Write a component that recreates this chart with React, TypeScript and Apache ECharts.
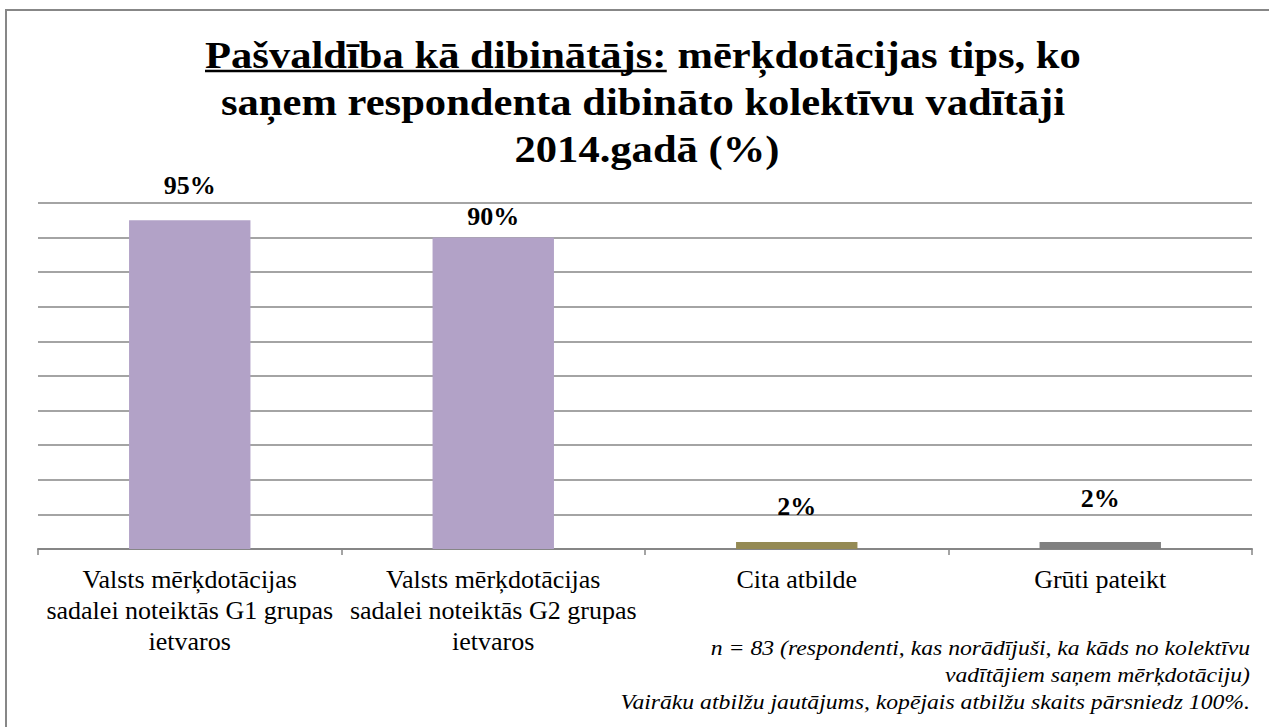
import React, { useEffect, useRef } from "react";
import * as echarts from "echarts";

const categories = [
  "Valsts mērķdotācijas\nsadalei noteiktās G1 grupas\nietvaros",
  "Valsts mērķdotācijas\nsadalei noteiktās G2 grupas\nietvaros",
  "Cita atbilde",
  "Grūti pateikt",
];
const values = [95, 90, 2, 2];
const barColors = ["#B2A2C7", "#B2A2C7", "#948A54", "#808080"];
const titleUnderlined = "Pašvaldība kā dibinātājs:";
const titleRest1 = "mērķdotācijas tips, ko";
const titleLine2 = "saņem respondenta dibināto kolektīvu vadītāji";
const titleLine3 = "2014.gadā (%)";
const notes = [
  "n = 83 (respondenti, kas norādījuši, ka kāds no kolektīvu",
  "vadītājiem saņem mērķdotāciju)",
  "Vairāku atbilžu jautājums, kopējais atbilžu skaits pārsniedz 100%.",
];

const SERIF = "Liberation Serif";

function measure(text: string, size: number, weight: string, style: string): number {
  const s = document.createElement("span");
  s.style.fontFamily = SERIF;
  s.style.fontSize = size + "px";
  s.style.fontWeight = weight;
  s.style.fontStyle = style;
  s.style.whiteSpace = "pre";
  s.style.position = "absolute";
  s.style.left = "-5000px";
  s.style.top = "0";
  s.textContent = text;
  document.body.appendChild(s);
  const w = s.getBoundingClientRect().width;
  document.body.removeChild(s);
  return w;
}

function buildOption() {
  const titleSize = 38;
  const cx = 643;
  const wA = measure(titleUnderlined, titleSize, "bold", "normal");
  const wAB = measure(titleUnderlined + " " + titleRest1, titleSize, "bold", "normal");
  const wS = measure(titleUnderlined + " ", titleSize, "bold", "normal") - wA;
  const sx = 876 / wAB;
  const x0 = cx - (wAB * sx) / 2;
  const labelDist = [22, 8, 23, 31];

  const noteSize = 21;
  const nsx = 630 / measure(notes[2], noteSize, "normal", "italic");

  const titleStyle = {
    fontFamily: SERIF,
    fontSize: titleSize,
    fontWeight: "bold",
    fill: "#000",
    verticalAlign: "middle",
  };

  return {
    animation: false,
    textStyle: { fontFamily: SERIF },
    grid: { left: 38, right: 17, top: 203, bottom: 178, containLabel: false },
    xAxis: {
      type: "category",
      data: categories,
      axisLine: { lineStyle: { color: "#868686", width: 2 } },
      axisTick: { show: true, length: 6, lineStyle: { color: "#868686", width: 1.5 } },
      axisLabel: {
        interval: 0,
        color: "#000",
        fontFamily: SERIF,
        fontSize: 26,
        lineHeight: 31,
        margin: 15,
      },
    },
    yAxis: {
      type: "value",
      min: 0,
      max: 100,
      interval: 10,
      axisLabel: { show: false },
      axisLine: { show: false },
      axisTick: { show: false },
      splitLine: { lineStyle: { color: "#868686", width: 1.5 } },
    },
    series: [
      {
        type: "bar",
        barWidth: "40%",
        data: values.map((v, i) => ({
          value: v,
          itemStyle: { color: barColors[i] },
          label: { distance: labelDist[i] },
        })),
        label: {
          show: true,
          position: "top",
          formatter: "{c}%",
          color: "#000",
          fontFamily: SERIF,
          fontWeight: "bold",
          fontSize: 26,
        },
      },
    ],
    graphic: [
      {
        type: "rect",
        shape: { x: 6, y: 10, width: 1400, height: 900 },
        style: { fill: "none", stroke: "#878787", lineWidth: 2 },
        silent: true,
      },
      {
        type: "text",
        x: x0,
        y: 55,
        scaleX: sx,
        style: { ...titleStyle, text: titleUnderlined, align: "left" },
      },
      {
        type: "line",
        shape: { x1: x0, y1: 71, x2: x0 + wA * sx, y2: 71 },
        style: { stroke: "#000", lineWidth: 2.5 },
      },
      {
        type: "text",
        x: x0 + (wA + wS) * sx,
        y: 55,
        scaleX: sx,
        style: { ...titleStyle, text: titleRest1, align: "left" },
      },
      {
        type: "text",
        x: cx,
        y: 102,
        scaleX: sx,
        style: { ...titleStyle, text: titleLine2, align: "center" },
      },
      {
        type: "text",
        x: cx + 4,
        y: 149,
        scaleX: sx,
        style: { ...titleStyle, text: titleLine3, align: "center" },
      },
      ...notes.map((t, i) => ({
        type: "text",
        x: 1250,
        y: 648 + i * 27,
        scaleX: nsx,
        style: {
          text: t,
          fontFamily: SERIF,
          fontStyle: "italic",
          fontSize: noteSize,
          fill: "#000",
          align: "right",
          verticalAlign: "middle",
        },
      })),
    ],
  };
}

export default function App() {
  const ref = useRef<HTMLDivElement>(null);
  useEffect(() => {
    if (!ref.current) return;
    document.body.style.margin = "0";
    let disposed = false;
    const chart = echarts.init(ref.current, undefined, { renderer: "svg" });
    chart.setOption(buildOption() as any);
    const fonts = (document as any).fonts;
    if (fonts && fonts.load) {
      Promise.all([
        fonts.load(`26px "${SERIF}"`, "Valsts ā"),
        fonts.load(`bold 38px "${SERIF}"`, "Pašvaldība"),
        fonts.load(`italic 21px "${SERIF}"`, "n = 83"),
      ])
        .catch(() => null)
        .then(() => {
          if (disposed) return;
          chart.clear();
          chart.setOption(buildOption() as any, true);
        });
    }
    return () => {
      disposed = true;
      chart.dispose();
    };
  }, []);
  return (
    <div style={{ position: "relative", width: 1269, height: 727 }}>
      <span style={{ position: "absolute", left: 20, top: 20, fontFamily: SERIF, opacity: 0, fontSize: 10 }}>
        x<b>x</b><i>x</i>
      </span>
      <div
        ref={ref}
        style={{ position: "absolute", left: 0, top: 0, width: 1269, height: 727, background: "#fff", zIndex: 1 }}
      />
    </div>
  );
}
